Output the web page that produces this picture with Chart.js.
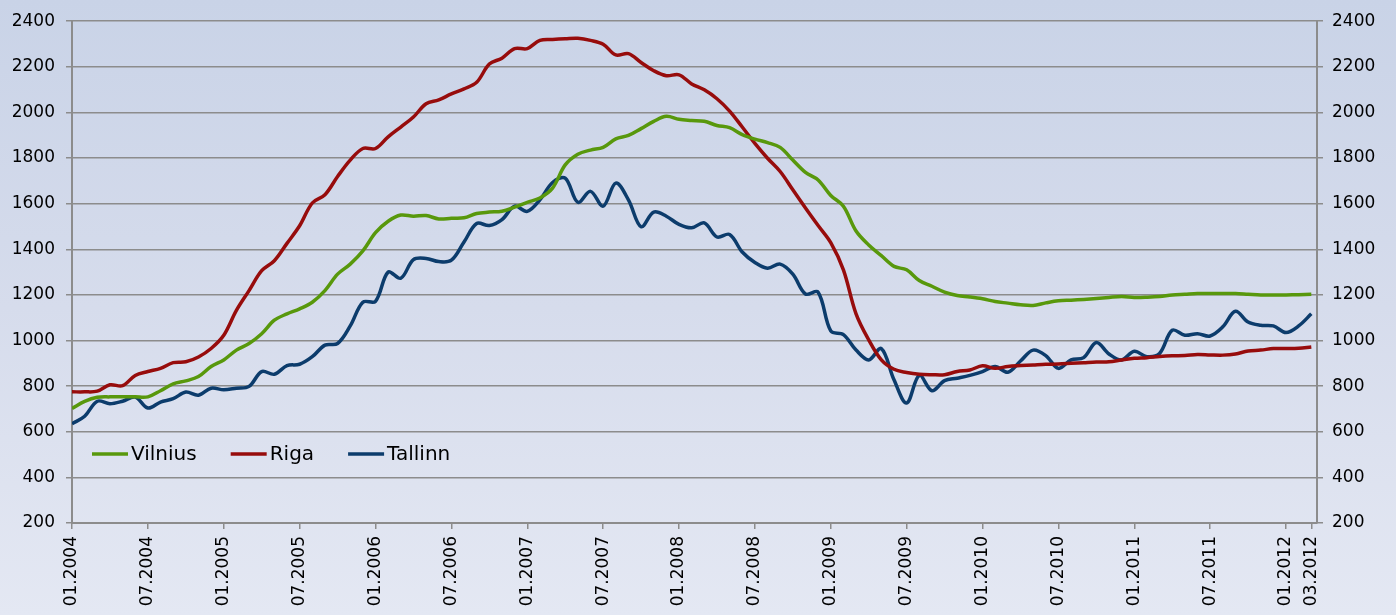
<!DOCTYPE html>
<html>
<head>
<meta charset="utf-8">
<script src="https://cdn.jsdelivr.net/npm/chart.js@4.4.0/dist/chart.umd.min.js"></script>
<style>
  html, body { margin: 0; padding: 0; }
  body { width: 1396px; height: 615px; background: linear-gradient(to bottom, #c9d3e7 0%, #d6dcec 50%, #e4e8f3 100%); }
  #wrap { position: relative; width: 1396px; height: 615px; }
</style>
</head>
<body>
<div id="wrap"><canvas id="chart" width="1396" height="615"></canvas></div>
<script>
// monthly categories 01.2004 .. 03.2012
const months = [];
for (let y = 2004; y <= 2012; y++) {
  for (let m = 1; m <= 12; m++) {
    if (y === 2012 && m > 3) break;
    months.push((m < 10 ? '0' + m : '' + m) + '.' + y);
  }
}

const tickLabels = ['01.2004', '07.2004', '01.2005', '07.2005', '01.2006', '07.2006', '01.2007', '07.2007',
  '01.2008', '07.2008', '01.2009', '07.2009', '01.2010', '07.2010', '01.2011', '07.2011', '01.2012', '03.2012'];

const vilnius = [702, 733, 751, 753, 753, 753, 753, 780, 810, 823, 842, 886, 915, 958, 987, 1030, 1089, 1117, 1139, 1168,
  1219, 1291, 1335, 1393, 1473, 1523, 1550, 1545, 1548, 1533, 1536, 1538, 1557, 1563, 1567, 1585, 1606, 1625, 1668, 1770,
  1817, 1835, 1847, 1884, 1899, 1929, 1961, 1983, 1970, 1965, 1961, 1943, 1933, 1903, 1883, 1868, 1847, 1791, 1737, 1704,
  1636, 1589, 1480, 1419, 1372, 1325, 1310, 1263, 1238, 1212, 1197, 1191, 1183, 1171, 1164, 1157, 1154, 1165, 1174, 1177,
  1180, 1184, 1189, 1193, 1189, 1190, 1193, 1200, 1203, 1206, 1206, 1206, 1206, 1203, 1200, 1200, 1200, 1201, 1203];

const riga = [775, 775, 778, 806, 802, 847, 864, 878, 903, 907, 928, 965, 1023, 1132, 1219, 1306, 1350, 1426, 1503, 1603,
  1639, 1719, 1791, 1842, 1842, 1893, 1936, 1980, 2038, 2055, 2081, 2103, 2132, 2212, 2238, 2280, 2280, 2316, 2320, 2323,
  2325, 2316, 2299, 2252, 2258, 2219, 2183, 2161, 2165, 2125, 2099, 2060, 2006, 1936, 1864, 1799, 1741, 1661, 1581, 1504,
  1429, 1310, 1117, 1003, 915, 874, 860, 852, 850, 850, 864, 871, 889, 878, 886, 890, 893, 896, 897, 900,
  903, 906, 907, 915, 922, 925, 930, 933, 934, 939, 937, 936, 941, 954, 958, 965, 965, 966, 972];

const tallinn = [635, 668, 734, 723, 734, 752, 704, 730, 745, 774, 760, 791, 784, 791, 799, 864, 852, 890, 896, 929,
  980, 987, 1064, 1168, 1172, 1300, 1273, 1355, 1360, 1346, 1352, 1432, 1513, 1504, 1530, 1589, 1566, 1617, 1693, 1712,
  1606, 1654, 1589, 1690, 1617, 1499, 1563, 1545, 1509, 1494, 1516, 1454, 1465, 1388, 1342, 1317, 1335, 1291, 1204, 1212,
  1042, 1026, 958, 915, 965, 828, 726, 847, 780, 824, 835, 847, 864, 886, 861, 910, 958, 934, 878, 915,
  925, 991, 941, 915, 953, 929, 943, 1045, 1023, 1030, 1020, 1060, 1128, 1081, 1067, 1064, 1035, 1064, 1117];

const yTicks = { min: 200, max: 2400, step: 200 };

const toPoints = arr => arr.map((v, i) => ({ x: i, y: v }));

const tickFont = { family: '"DejaVu Sans", Verdana, sans-serif', size: 17 };
const axisGrey = '#8c8c8c';

const insideLegend = {
  id: 'insideLegend',
  afterDraw(chart) {
    const ctx = chart.ctx;
    const a = chart.chartArea;
    let x = a.left + 20;
    const y = a.bottom - 69;
    ctx.save();
    ctx.font = '20px "DejaVu Sans", Verdana, sans-serif';
    ctx.textBaseline = 'middle';
    chart.data.datasets.forEach(ds => {
      ctx.strokeStyle = ds.borderColor;
      ctx.lineWidth = 3.5;
      ctx.beginPath();
      ctx.moveTo(x, y);
      ctx.lineTo(x + 36, y);
      ctx.stroke();
      ctx.fillStyle = '#000';
      ctx.fillText(ds.label, x + 39, y + 1);
      x += 39 + ctx.measureText(ds.label).width + 34;
    });
    ctx.restore();
  }
};

const ctx = document.getElementById('chart').getContext('2d');
new Chart(ctx, {
  type: 'line',
  data: {
    datasets: [
      { label: 'Vilnius', data: toPoints(vilnius), borderColor: '#58980c', borderWidth: 3.5, pointRadius: 0, tension: 0.35 },
      { label: 'Riga', data: toPoints(riga), borderColor: '#970c0c', borderWidth: 3.5, pointRadius: 0, tension: 0.35 },
      { label: 'Tallinn', data: toPoints(tallinn), borderColor: '#0c3c6c', borderWidth: 3.5, pointRadius: 0, tension: 0.35 }
    ]
  },
  options: {
    responsive: false,
    animation: false,
    layout: { padding: { top: 17, left: 0, right: 0, bottom: 0 } },
    plugins: {
      legend: { display: false },
      tooltip: { enabled: false }
    },
    scales: {
      x: {
        type: 'linear',
        min: 0,
        max: months.length - 0.55,
        afterBuildTicks: s => { s.ticks = tickLabels.map(l => ({ value: months.indexOf(l) })); },
        afterFit: s => { s.height = 92; },
        ticks: {
          autoSkip: false,
          maxRotation: 90,
          minRotation: 90,
          padding: 7,
          color: '#000',
          font: tickFont,
          callback: v => months[v]
        },
        grid: { drawOnChartArea: false, tickLength: 6, color: axisGrey, lineWidth: 1.5 },
        border: { color: axisGrey, width: 2 }
      },
      y: {
        position: 'left',
        min: yTicks.min,
        max: yTicks.max,
        afterFit: s => { s.width = 72; },
        ticks: { stepSize: yTicks.step, padding: 11, color: '#000', font: tickFont, callback: v => String(v) },
        grid: { color: axisGrey, lineWidth: 1.5, tickLength: 6 },
        border: { color: axisGrey, width: 2 }
      },
      y2: {
        position: 'right',
        min: yTicks.min,
        max: yTicks.max,
        afterFit: s => { s.width = 79; },
        ticks: { stepSize: yTicks.step, padding: 9, color: '#000', font: tickFont, callback: v => String(v) },
        grid: { drawOnChartArea: false, color: axisGrey, lineWidth: 1.5, tickLength: 6 },
        border: { color: axisGrey, width: 2 }
      }
    }
  },
  plugins: [insideLegend]
});
</script>
</body>
</html>
